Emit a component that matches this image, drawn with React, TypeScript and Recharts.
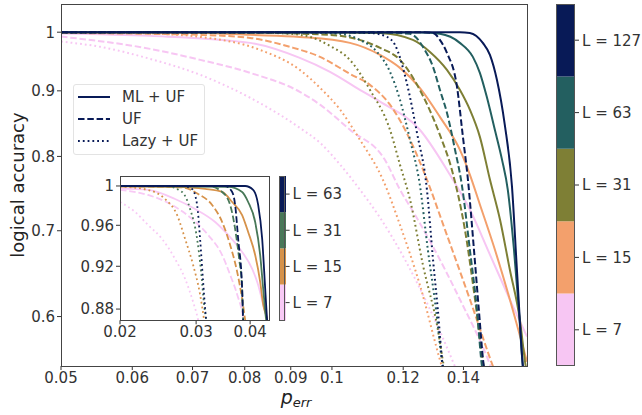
import React from 'react';
import { LineChart, Line, XAxis, YAxis, BarChart, Bar } from 'recharts';

// ---- tick labels / categories ----
const X_TICKS = [0.05, 0.06, 0.07, 0.08, 0.09, 0.1, 0.12, 0.14];
const Y_TICKS = [0.6, 0.7, 0.8, 0.9, 1];
const INSET_X_TICKS = [0.02, 0.03, 0.04];
const INSET_Y_TICKS = [0.88, 0.92, 0.96, 1];
const MAIN_L = ['L = 7', 'L = 15', 'L = 31', 'L = 63', 'L = 127'];
const INSET_L = ['L = 7', 'L = 15', 'L = 31', 'L = 63'];
const METHODS = ['ML + UF', 'UF', 'Lazy + UF'];

// ---- main plot series: [p_err, logical accuracy] ----
const ML_7: [number, number][] = [[0.05, 0.9978], [0.0628, 0.9934], [0.0811, 0.981], [0.0921, 0.9549], [0.0995, 0.9313], [0.1074, 0.9017], [0.1131, 0.8826], [0.1252, 0.8392], [0.1352, 0.7743], [0.1423, 0.7272], [0.1498, 0.6707], [0.1576, 0.6189], [0.1647, 0.5788]];
const UF_7: [number, number][] = [[0.05, 0.9921], [0.0628, 0.9705], [0.0714, 0.9515], [0.0811, 0.9296], [0.0921, 0.8984], [0.097, 0.8779], [0.1047, 0.8392], [0.1145, 0.7951], [0.119, 0.7537], [0.1236, 0.7208], [0.1295, 0.6802], [0.1387, 0.6189], [0.1498, 0.5504], [0.152, 0.535]];
const LAZY_7: [number, number][] = [[0.05, 0.9833], [0.0553, 0.974], [0.0628, 0.9532], [0.0714, 0.9262], [0.0811, 0.8889], [0.0921, 0.8421], [0.097, 0.8197], [0.1021, 0.7883], [0.1074, 0.7537], [0.1131, 0.7165], [0.1205, 0.6649], [0.1285, 0.6078], [0.137, 0.5484], [0.139, 0.535]];

const ML_15: [number, number][] = [[0.05, 0.9996], [0.0714, 0.9987], [0.0811, 0.9952], [0.0921, 0.9916], [0.1047, 0.981], [0.1131, 0.96], [0.119, 0.9379], [0.1252, 0.9049], [0.1318, 0.8589], [0.1387, 0.8097], [0.1423, 0.7743], [0.146, 0.7338], [0.1517, 0.6768], [0.1576, 0.6189], [0.1647, 0.5532]];
const UF_15: [number, number][] = [[0.05, 0.9987], [0.0628, 0.997], [0.0714, 0.9952], [0.0811, 0.9898], [0.0898, 0.974], [0.097, 0.9566], [0.1047, 0.9279], [0.1102, 0.9097], [0.116, 0.8779], [0.1221, 0.8244], [0.1275, 0.7674], [0.1335, 0.7017], [0.1423, 0.6189], [0.151, 0.5484], [0.153, 0.535]];
const LAZY_15: [number, number][] = [[0.05, 0.9996], [0.0581, 0.9987], [0.0644, 0.997], [0.0714, 0.9916], [0.0832, 0.9687], [0.0921, 0.9346], [0.097, 0.9049], [0.1021, 0.8701], [0.1074, 0.8244], [0.1139, 0.7674], [0.119, 0.7075], [0.1252, 0.6353], [0.1325, 0.5484], [0.134, 0.535]];

const ML_31: [number, number][] = [[0.05, 1], [0.1047, 0.9996], [0.1131, 0.9987], [0.123, 0.9863], [0.1285, 0.9652], [0.1342, 0.9346], [0.1387, 0.9017], [0.1423, 0.8701], [0.146, 0.8286], [0.1498, 0.7674], [0.1537, 0.7143], [0.1576, 0.6532], [0.1617, 0.5971], [0.1642, 0.5484], [0.1655, 0.535]];
const UF_31: [number, number][] = [[0.05, 1], [0.0811, 0.9991], [0.0995, 0.9952], [0.1131, 0.9722], [0.119, 0.9515], [0.1252, 0.9017], [0.1318, 0.8316], [0.1359, 0.781], [0.1405, 0.7017], [0.1442, 0.6189], [0.1475, 0.5484], [0.149, 0.535]];
const LAZY_31: [number, number][] = [[0.05, 1], [0.0811, 0.9996], [0.0898, 0.997], [0.0945, 0.9916], [0.0995, 0.9757], [0.1047, 0.9515], [0.1102, 0.9017], [0.116, 0.8392], [0.119, 0.7883], [0.1221, 0.7404], [0.1262, 0.6585], [0.1311, 0.5865], [0.1332, 0.5484], [0.1345, 0.535]];

const ML_63: [number, number][] = [[0.05, 1], [0.1252, 0.9996], [0.1318, 0.997], [0.1387, 0.981], [0.1434, 0.9566], [0.146, 0.9296], [0.1486, 0.8905], [0.1517, 0.8392], [0.1545, 0.7954], [0.1568, 0.7537], [0.1593, 0.6768], [0.1613, 0.6078], [0.163, 0.5484], [0.164, 0.535]];
const UF_63: [number, number][] = [[0.05, 1], [0.1131, 0.9996], [0.1221, 0.997], [0.1268, 0.9687], [0.1295, 0.9396], [0.1318, 0.9017], [0.1342, 0.8653], [0.137, 0.8097], [0.1394, 0.7605], [0.1423, 0.6768], [0.1449, 0.6078], [0.1468, 0.5484], [0.148, 0.535]];
const LAZY_63: [number, number][] = [[0.05, 1], [0.0921, 0.9996], [0.1021, 0.997], [0.1074, 0.9863], [0.1122, 0.9652], [0.116, 0.9313], [0.119, 0.8857], [0.1221, 0.8244], [0.1252, 0.7605], [0.1278, 0.6768], [0.1305, 0.6078], [0.1328, 0.5484], [0.134, 0.535]];

const ML_127: [number, number][] = [[0.05, 1], [0.1387, 1], [0.1423, 0.9987], [0.1471, 0.981], [0.1498, 0.96], [0.1525, 0.918], [0.1556, 0.8469], [0.1585, 0.7578], [0.1605, 0.6532], [0.163, 0.5475], [0.1635, 0.535]];
const UF_127: [number, number][] = [[0.05, 1], [0.1252, 1], [0.1295, 0.9987], [0.1318, 0.9863], [0.1342, 0.9635], [0.1377, 0.9065], [0.1398, 0.8286], [0.1416, 0.7674], [0.1438, 0.6768], [0.1456, 0.6078], [0.1475, 0.5484], [0.1485, 0.535]];
const LAZY_127: [number, number][] = [[0.05, 1], [0.1021, 1], [0.1102, 0.9987], [0.1151, 0.9916], [0.1175, 0.9775], [0.1211, 0.913], [0.1243, 0.8346], [0.1275, 0.7537], [0.1295, 0.6649], [0.1311, 0.6078], [0.1328, 0.5484], [0.134, 0.535]];

// ---- inset series ----
const I_ML_7: [number, number][] = [[0.02, 0.9972], [0.02322, 0.9959], [0.02682, 0.9866], [0.02984, 0.9764], [0.0332, 0.9633], [0.03558, 0.9504], [0.03833, 0.9338], [0.04044, 0.9175], [0.04175, 0.9023], [0.04288, 0.884], [0.0438, 0.8701], [0.0441, 0.862]];
const I_UF_7: [number, number][] = [[0.02, 0.9959], [0.02322, 0.9907], [0.02639, 0.9805], [0.02936, 0.9663], [0.03198, 0.9504], [0.03446, 0.9308], [0.03596, 0.9118], [0.03733, 0.8934], [0.03854, 0.8712], [0.0388, 0.862]];
const I_LAZY_7: [number, number][] = [[0.02, 0.9835], [0.02167, 0.9734], [0.02322, 0.9603], [0.02502, 0.9465], [0.02682, 0.927], [0.02829, 0.9081], [0.02952, 0.8866], [0.03032, 0.8701], [0.0306, 0.862]];

const I_ML_15: [number, number][] = [[0.02, 0.9995], [0.02682, 0.999], [0.03147, 0.9969], [0.03446, 0.9938], [0.03635, 0.9835], [0.03833, 0.9703], [0.03958, 0.9534], [0.04109, 0.9308], [0.0422, 0.9053], [0.04288, 0.884], [0.0438, 0.8701], [0.0441, 0.862]];
const I_UF_15: [number, number][] = [[0.02, 0.9995], [0.02784, 0.9985], [0.03032, 0.9917], [0.03267, 0.9805], [0.03446, 0.9633], [0.03596, 0.9406], [0.03733, 0.9147], [0.03833, 0.8893], [0.03895, 0.8701], [0.0392, 0.862]];
const I_LAZY_15: [number, number][] = [[0.02, 0.9995], [0.02322, 0.9959], [0.02542, 0.9866], [0.02711, 0.9703], [0.02829, 0.9465], [0.02952, 0.9213], [0.03064, 0.8934], [0.0313, 0.8701], [0.0315, 0.862]];

const I_ML_31: [number, number][] = [[0.02, 1], [0.03558, 0.999], [0.03833, 0.9938], [0.03958, 0.9835], [0.04109, 0.9633], [0.0422, 0.9308], [0.04288, 0.8989], [0.04357, 0.8701], [0.0439, 0.862]];
const I_UF_31: [number, number][] = [[0.02, 1], [0.03198, 1], [0.03446, 0.9938], [0.03596, 0.9805], [0.03693, 0.9563], [0.03773, 0.927], [0.03833, 0.8989], [0.03854, 0.8701], [0.0387, 0.862]];
const I_LAZY_31: [number, number][] = [[0.02, 1], [0.02542, 1], [0.02784, 0.9938], [0.02905, 0.9764], [0.03016, 0.9465], [0.03081, 0.9147], [0.0313, 0.884], [0.03164, 0.8701], [0.0318, 0.862]];

const I_ML_63: [number, number][] = [[0.02, 1], [0.03895, 1], [0.04065, 0.9959], [0.04175, 0.9805], [0.04265, 0.9465], [0.04334, 0.8989], [0.0438, 0.8701], [0.0441, 0.862]];
const I_UF_63: [number, number][] = [[0.02, 1], [0.03501, 1], [0.03635, 0.9938], [0.03693, 0.9805], [0.03753, 0.9465], [0.03833, 0.8989], [0.03854, 0.8701], [0.0387, 0.862]];
const I_LAZY_63: [number, number][] = [[0.02, 1], [0.02784, 1], [0.02936, 0.9969], [0.03016, 0.9805], [0.03064, 0.9465], [0.03114, 0.9053], [0.03164, 0.8701], [0.0318, 0.862]];

// ---- styling ----
const MAIN_COLORS = ['#f7c6f3', '#f3a06c', '#7e7f35', '#235f60', '#081a57'];
const INSET_COLORS = ['#f8c9f5', '#d6924a', '#487858', '#081a57'];
const DASHES = [undefined, '6.5 2.8', '1.8 3'];
const TEXT = '#333333';
const FONT = "'DejaVu Sans', sans-serif";

const MAIN_SERIES = [
  [ML_7, UF_7, LAZY_7],
  [ML_15, UF_15, LAZY_15],
  [ML_31, UF_31, LAZY_31],
  [ML_63, UF_63, LAZY_63],
  [ML_127, UF_127, LAZY_127],
];
const INSET_SERIES = [
  [I_ML_7, I_UF_7, I_LAZY_7],
  [I_ML_15, I_UF_15, I_LAZY_15],
  [I_ML_31, I_UF_31, I_LAZY_31],
  [I_ML_63, I_UF_63, I_LAZY_63],
];

const toPts = (arr: [number, number][]) => arr.map(([p, acc]) => ({ p, acc }));
const fmt = (v: number) => String(v);

function renderLines(series: [number, number][][][], colors: string[], prefix: string, width: number) {
  const out: React.ReactNode[] = [];
  series.forEach((group, li) => {
    group.forEach((arr, mi) => {
      out.push(
        <Line
          key={`${prefix}-${li}-${mi}`}
          data={toPts(arr)}
          dataKey="acc"
          type="monotone"
          stroke={colors[li]}
          strokeWidth={width}
          strokeDasharray={DASHES[mi]}
          dot={false}
          activeDot={false}
          isAnimationActive={false}
        />
      );
    });
  });
  return out;
}

function ColorBar({ labels, colors, left, top, width, height }: { labels: string[]; colors: string[]; left: number; top: number; width: number; height: number }) {
  const row: Record<string, number | string> = { name: 'cb' };
  labels.forEach((_, i) => { row[`k${i}`] = 1; });
  const ticks = labels.map((_, i) => i + 0.5);
  return (
    <div style={{ position: 'absolute', left, top }}>
      <BarChart width={width + 70} height={height} data={[row]} margin={{ top: 0, right: 0, bottom: 0, left: 0 }} barCategoryGap={0}>
        <XAxis dataKey="name" type="category" hide />
        <YAxis
          orientation="right"
          type="number"
          domain={[0, labels.length]}
          ticks={ticks}
          width={70}
          tickSize={4}
          tickMargin={3}
          axisLine={false}
          tickLine={{ stroke: TEXT }}
          tick={{ fill: TEXT, fontSize: 15, fontFamily: FONT }}
          tickFormatter={(v: number) => labels[Math.floor(v)]}
          interval={0}
        />
        {labels.map((_, i) => (
          <Bar key={i} dataKey={`k${i}`} stackId="s" fill={colors[i]} isAnimationActive={false} />
        ))}
      </BarChart>
      <div style={{ position: 'absolute', left: 0, top: 0, width, height, border: '1px solid #555', boxSizing: 'border-box', pointerEvents: 'none' }} />
    </div>
  );
}

export default function App() {
  return (
    <div style={{ position: 'absolute', left: 0, top: 0, width: 642, height: 415, background: '#fff', fontFamily: FONT, overflow: 'hidden' }}>
      {/* main chart */}
      <div style={{ position: 'absolute', left: 0, top: 0 }}>
        <LineChart width={642} height={415} margin={{ top: 4.5, right: 114.3, bottom: 19, left: 11 }}>
          <XAxis
            dataKey="p"
            type="number"
            scale="log"
            domain={[0.05, 0.165]}
            allowDataOverflow
            ticks={X_TICKS}
            interval={0}
            tickFormatter={fmt}
            height={30}
            tickSize={4}
            axisLine={false}
            tickLine={{ stroke: TEXT }}
            tick={{ fill: TEXT, fontSize: 15, fontFamily: FONT }}
          />
          <YAxis
            type="number"
            scale="log"
            domain={[0.549, 1.051]}
            allowDataOverflow
            ticks={Y_TICKS}
            interval={0}
            tickFormatter={fmt}
            width={50}
            tickSize={4}
            axisLine={false}
            tickLine={{ stroke: TEXT }}
            tick={{ fill: TEXT, fontSize: 15, fontFamily: FONT }}
          />
          {renderLines(MAIN_SERIES, MAIN_COLORS, 'm', 2)}
        </LineChart>
      </div>
      <div style={{ position: 'absolute', left: 60.5, top: 4, width: 467.7, height: 362.5, border: '1px solid #444', boxSizing: 'border-box', pointerEvents: 'none' }} />

      {/* axis titles */}
      <div style={{ position: 'absolute', left: 17, top: 185, transform: 'translate(-50%, -50%) rotate(-90deg)', fontSize: 18, color: '#222', whiteSpace: 'nowrap' }}>
        logical accuracy
      </div>
      <div style={{ position: 'absolute', left: 296, top: 398, transform: 'translate(-50%, -50%)', fontSize: 19, color: '#222', whiteSpace: 'nowrap', fontStyle: 'italic' }}>
        p<sub style={{ fontSize: 13, verticalAlign: '-0.3em' }}>err</sub>
      </div>

      {/* legend */}
      <div style={{ position: 'absolute', left: 73, top: 84, width: 132, height: 71, border: '1px solid #e3e3e3', borderRadius: 3, background: 'rgba(255,255,255,0.8)', boxSizing: 'border-box' }}>
        <svg width={132} height={71} style={{ position: 'absolute', left: -1, top: -1 }}>
          {METHODS.map((m, i) => (
            <g key={m}>
              <line x1={5} x2={37} y1={13 + i * 22} y2={13 + i * 22} stroke="#081a57" strokeWidth={2} strokeDasharray={DASHES[i]} />
              <text x={49} y={13 + i * 22} dominantBaseline="central" fontSize={15} fill={TEXT} fontFamily={FONT}>{m}</text>
            </g>
          ))}
        </svg>
      </div>

      {/* inset */}
      <div style={{ position: 'absolute', left: 120, top: 176.3, width: 149.3, height: 144, background: '#fff' }} />
      <div style={{ position: 'absolute', left: 60, top: 170 }}>
        <LineChart width={300} height={175} margin={{ top: 6.3, right: 90.7, bottom: 4.7, left: 10 }}>
          <XAxis
            dataKey="p"
            type="number"
            scale="log"
            domain={[0.02, 0.0443]}
            allowDataOverflow
            ticks={INSET_X_TICKS}
            interval={0}
            tickFormatter={fmt}
            height={20}
            tickSize={4}
            axisLine={false}
            tickLine={{ stroke: TEXT }}
            tick={{ fill: TEXT, fontSize: 15, fontFamily: FONT }}
          />
          <YAxis
            type="number"
            scale="log"
            domain={[0.8698, 1.0101]}
            allowDataOverflow
            ticks={INSET_Y_TICKS}
            interval={0}
            tickFormatter={fmt}
            width={50}
            tickSize={4}
            axisLine={false}
            tickLine={{ stroke: TEXT }}
            tick={{ fill: TEXT, fontSize: 15, fontFamily: FONT }}
          />
          {renderLines(INSET_SERIES, INSET_COLORS, 'i', 1.8)}
        </LineChart>
      </div>
      <div style={{ position: 'absolute', left: 119.5, top: 175.8, width: 150.3, height: 145, border: '1px solid #444', boxSizing: 'border-box', pointerEvents: 'none' }} />

      {/* colorbars */}
      <ColorBar labels={INSET_L} colors={INSET_COLORS} left={278.7} top={176} width={6.6} height={144.7} />
      <ColorBar labels={MAIN_L} colors={MAIN_COLORS} left={556} top={4} width={19} height={362} />
    </div>
  );
}
